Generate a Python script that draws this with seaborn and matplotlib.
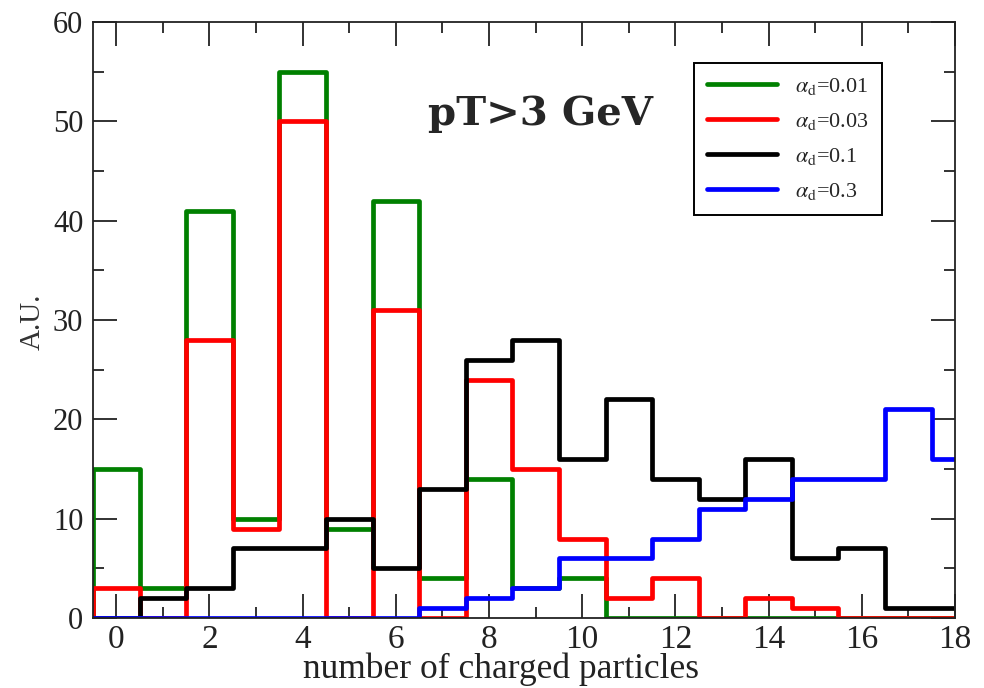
import numpy as np
import pandas as pd
import matplotlib
matplotlib.use('Agg')
import matplotlib.pyplot as plt
from matplotlib.lines import Line2D
from matplotlib.ticker import MultipleLocator
import seaborn as sns

# number of charged particles (bin centres)
n_charged = list(range(0, 19))

# A.U. per bin
alpha_001 = [15, 3, 41, 10, 55, 9, 42, 4, 14, 3, 4, 0, 0, 0, 0, 0, 0, 0, 0]
alpha_003 = [3, 0, 28, 9, 50, 0, 31, 0, 24, 15, 8, 2, 4, 0, 2, 1, 0, 0, 0]
alpha_01 = [0, 2, 3, 7, 7, 10, 5, 13, 26, 28, 16, 22, 14, 12, 16, 6, 7, 1, 1]
alpha_03 = [0, 0, 0, 0, 0, 0, 0, 1, 2, 3, 6, 6, 8, 11, 12, 14, 14, 21, 16]

labels = [r'$\alpha_{\rm d}$=0.01', r'$\alpha_{\rm d}$=0.03',
          r'$\alpha_{\rm d}$=0.1', r'$\alpha_{\rm d}$=0.3']
colors = ['#008000', '#ff0000', '#000000', '#0000ff']

sns.set_style("ticks")
plt.rcParams['font.family'] = ['Liberation Serif', 'DejaVu Serif']
plt.rcParams['mathtext.fontset'] = 'stix'

fig = plt.figure(figsize=(9.84, 6.88), dpi=100)
ax = fig.add_axes([0.0945, 0.1017, 0.876, 0.8663])

df = pd.DataFrame({
    'n': n_charged,
    'w001': alpha_001,
    'w003': alpha_003,
    'w01': alpha_01,
    'w03': alpha_03,
})

# binrange starts one empty bin early so the outline rises from zero at -0.5
for col_name, col in zip(['w001', 'w003', 'w01', 'w03'], colors):
    sns.histplot(data=df, x='n', weights=col_name, binwidth=1,
                 binrange=(-1.5, 18.5), element='step',
                 fill=False, color=col, linewidth=3.4, ax=ax)

ax.set_xlim(-0.5, 18)
ax.set_ylim(0, 60)
ax.xaxis.set_major_locator(MultipleLocator(2))
ax.xaxis.set_minor_locator(MultipleLocator(1))
ax.yaxis.set_major_locator(MultipleLocator(10))
ax.yaxis.set_minor_locator(MultipleLocator(5))
ax.tick_params(which='both', direction='in', top=True, right=True,
               width=1.3, colors='#222222')
ax.tick_params(axis='x', labelsize=24, pad=5)
ax.tick_params(axis='y', labelsize=22, pad=7)
ax.tick_params(which='major', length=17)
ax.tick_params(which='minor', length=8)
for sp in ax.spines.values():
    sp.set_visible(True)
    sp.set_linewidth(1.3)
    sp.set_color('#222222')

ax.set_xlabel('number of charged particles', fontsize=25.5, color='#222222', va='baseline')
ax.xaxis.set_label_coords(0.473, -0.1007)
ax.set_ylabel('A.U.', fontsize=21, color='#333333', va='center', ha='center')
ax.yaxis.set_label_coords(-0.07, 0.497)

ax.text(9.1, 49.6, 'pT>3 GeV', fontsize=29, fontweight='bold',
        family='DejaVu Serif', ha='center', va='baseline')

handles = [Line2D([], [], color=c, linewidth=3.4) for c in colors]
leg = ax.legend(handles, labels, loc='upper left', bbox_to_anchor=(0.697, 0.932),
                fontsize=16, handlelength=3.15, handletextpad=0.8,
                labelspacing=0.63, borderpad=0.6, borderaxespad=0,
                fancybox=False, framealpha=1, edgecolor='black')
leg.get_frame().set_linewidth(1.4)

fig.savefig('out.png', dpi=100)
